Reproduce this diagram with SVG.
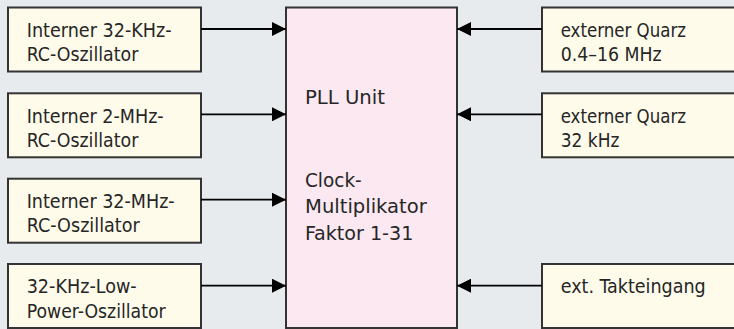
<svg xmlns="http://www.w3.org/2000/svg" width="734" height="329" viewBox="0 0 734 329">
<defs>
<style>
.bg{fill:#e8ebed}
.src{fill:#fefbea;stroke:#333;stroke-width:2}
.pll{fill:#fbe8f0;stroke:#333;stroke-width:2}
text{font-family:"DejaVu Sans Condensed","DejaVu Sans",sans-serif;font-size:20px;fill:#262626;font-stretch:condensed}
.conn line{stroke:#000;stroke-width:1.8}
</style>
<marker id="ah" viewBox="0 0 14 14" refX="14" refY="7" markerWidth="14" markerHeight="14" markerUnits="userSpaceOnUse" orient="auto">
<path d="M0,0 L14,7 L0,14 Z" fill="#000"/>
</marker>
</defs>
<rect class="bg" x="0" y="0" width="734" height="329"/>
<g id="n-int32k"><rect class="src" x="8" y="7.5" width="193" height="64"/>
<text x="26.7" y="36.5" textLength="145" lengthAdjust="spacingAndGlyphs">Interner 32-KHz-</text>
<text x="26.7" y="61" textLength="111.6" lengthAdjust="spacingAndGlyphs">RC-Oszillator</text></g>
<g id="n-int2m"><rect class="src" x="8" y="93.3" width="193" height="64"/>
<text x="26.7" y="122.7" textLength="137" lengthAdjust="spacingAndGlyphs">Interner 2-MHz-</text>
<text x="26.7" y="146.8" textLength="111.6" lengthAdjust="spacingAndGlyphs">RC-Oszillator</text></g>
<g id="n-int32m"><rect class="src" x="8" y="178.7" width="193" height="64"/>
<text x="26.7" y="208" textLength="148" lengthAdjust="spacingAndGlyphs">Interner 32-MHz-</text>
<text x="26.7" y="232.2" textLength="113" lengthAdjust="spacingAndGlyphs">RC-Oszillator</text></g>
<g id="n-lowpow"><rect class="src" x="8" y="264" width="193" height="64"/>
<text x="26.7" y="293.3" textLength="110" lengthAdjust="spacingAndGlyphs">32-KHz-Low-</text>
<text x="26.7" y="317.5" textLength="139" lengthAdjust="spacingAndGlyphs">Power-Oszillator</text></g>
<g id="n-pll"><rect class="pll" x="286" y="7.5" width="171" height="320.5"/>
<text x="305" y="104" textLength="80" lengthAdjust="spacingAndGlyphs">PLL Unit</text>
<text x="305" y="186.7" textLength="56.7" lengthAdjust="spacingAndGlyphs">Clock-</text>
<text x="305" y="213.3" textLength="121.7" lengthAdjust="spacingAndGlyphs">Multiplikator</text>
<text x="305" y="240" textLength="108.3" lengthAdjust="spacingAndGlyphs">Faktor 1-31</text></g>
<g id="n-quarz16"><rect class="src" x="542" y="7.5" width="200" height="64"/>
<text x="560.7" y="36.5" textLength="125.3" lengthAdjust="spacingAndGlyphs">externer Quarz</text>
<text x="560.7" y="61" textLength="101" lengthAdjust="spacingAndGlyphs">0.4–16 MHz</text></g>
<g id="n-quarz32"><rect class="src" x="542" y="93.3" width="200" height="64"/>
<text x="560.7" y="122.7" textLength="125.3" lengthAdjust="spacingAndGlyphs">externer Quarz</text>
<text x="560.7" y="146.8" textLength="58.7" lengthAdjust="spacingAndGlyphs">32 kHz</text></g>
<g id="n-exttakt"><rect class="src" x="542" y="264" width="200" height="64"/>
<text x="560.7" y="293.3" textLength="145" lengthAdjust="spacingAndGlyphs">ext. Takteingang</text></g>
<g class="conn" id="connectors">
<line x1="201" y1="29" x2="286" y2="29" marker-end="url(#ah)"/>
<line x1="201" y1="114.3" x2="286" y2="114.3" marker-end="url(#ah)"/>
<line x1="201" y1="199.7" x2="286" y2="199.7" marker-end="url(#ah)"/>
<line x1="201" y1="285.7" x2="286" y2="285.7" marker-end="url(#ah)"/>
<line x1="542" y1="29" x2="457" y2="29" marker-end="url(#ah)"/>
<line x1="542" y1="114.3" x2="457" y2="114.3" marker-end="url(#ah)"/>
<line x1="542" y1="285.7" x2="457" y2="285.7" marker-end="url(#ah)"/>
</g>
</svg>
